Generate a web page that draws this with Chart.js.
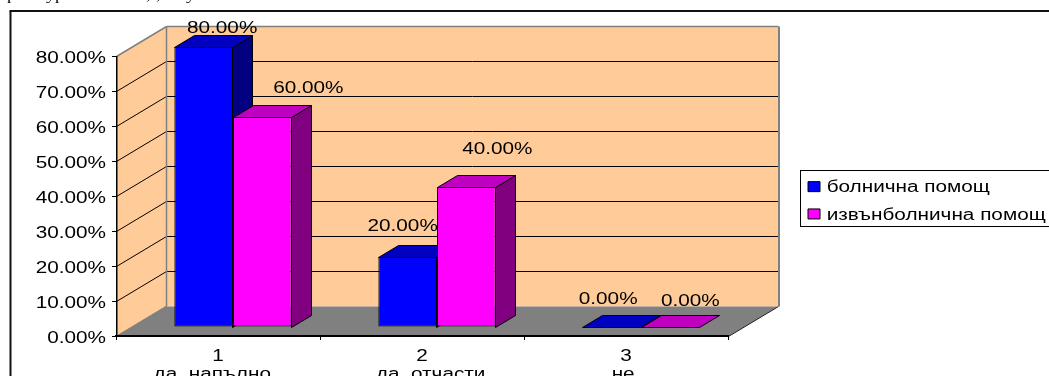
<!DOCTYPE html>
<html>
<head>
<meta charset="utf-8">
<style>
  html, body { margin: 0; padding: 0; background: #fff; overflow: hidden; }
  canvas { display: block; }
</style>
<script src="https://cdn.jsdelivr.net/npm/chart.js@4"></script>
</head>
<body>
<canvas id="chart" width="1049" height="376"></canvas>
<script>
// Survey answers, in percent
const categories = [['1', 'да, напълно  '], ['2', '   да, отчасти'], ['3', 'не ']];
const seriesNames = ['болнична помощ', 'извънболнична помощ'];
const hospitalCare = [80, 20, 0];
const outpatientCare = [60, 40, 0];
const axisMin = 0;
const axisMax = 80;
const axisStep = 10;

// Hand-placed offsets of the value labels from the top centre of each bar
const labelNudges = [
  [[18.5, -18.5], [-5, -30.5], [-3.5, -27.5]],
  [[46, -28.5], [31, -37.5], [20, -25.5]]
];

// Oblique projection of the box around the plot
const wallDepth = { x: 50, y: -30 };
const barInset = { x: 15, y: -9 };
const barDepth = { x: 20, y: -12 };

const seriesStyles = [
  { front: '#0000ff', top: '#0000c0', side: '#000080' },
  { front: '#ff00ff', top: '#c000c0', side: '#800080' }
];

const textFont = '"Liberation Sans", Arial, sans-serif';
const textSize = 17.3;
const textWiden = 1.2;

const canvas = document.getElementById('chart');

// All chart text is set slightly wide; value-axis and legend labels also get a small optical shift
const ctx2d = canvas.getContext('2d');
const plainFillText = ctx2d.fillText.bind(ctx2d);
ctx2d.fillText = (s, x, y) => {
  const shift = { right: [0, 2.5], left: [-2, 1] }[ctx2d.textAlign] || [0, 0];
  ctx2d.save();
  ctx2d.translate(x + shift[0], y + shift[1]);
  ctx2d.scale(textWiden, 1);
  plainFillText(s, 0, 0);
  ctx2d.restore();
};

function poly(ctx, pts, fill, stroke, width) {
  ctx.beginPath();
  pts.forEach((p, i) => (i ? ctx.lineTo(p[0], p[1]) : ctx.moveTo(p[0], p[1])));
  ctx.closePath();
  if (fill) { ctx.fillStyle = fill; ctx.fill(); }
  if (stroke) { ctx.strokeStyle = stroke; ctx.lineWidth = width || 1; ctx.stroke(); }
}

function line(ctx, x1, y1, x2, y2, color, width) {
  ctx.beginPath();
  ctx.moveTo(x1, y1);
  ctx.lineTo(x2, y2);
  ctx.strokeStyle = color;
  ctx.lineWidth = width || 1;
  ctx.stroke();
}

const backdrop = {
  id: 'backdrop',
  // Frame, cut-off caption line, walls, floor, gridlines and the legend box
  beforeDraw(chart) {
    const ctx = chart.ctx;
    const { left, right, top, bottom } = chart.chartArea;
    const L = left + 0.5, R = right + 0.5, T = top + 0.5, B = bottom + 0.5;
    const dx = wallDepth.x, dy = wallDepth.y;

    ctx.save();
    ctx.fillStyle = '#000';
    ctx.font = '15px "Liberation Serif", serif';
    ctx.textBaseline = 'alphabetic';
    [['р', 7], ['ур', 46], [',', 146], [',', 156], ['у', 186]].forEach(f => ctx.fillText(f[0], f[1], 0));
    ctx.restore();

    line(ctx, 10.5, 376, 10.5, 11, '#111', 2);
    line(ctx, 9.5, 11, 1049, 11, '#111', 2);

    // side wall and back wall
    poly(ctx, [[L, B], [L, T], [L + dx, T + dy], [L + dx, B + dy]], '#ffcc99');
    ctx.fillStyle = '#ffcc99';
    ctx.fillRect(L + dx, T + dy, R - L, B - T);

    // gridlines run across the back wall and along the side wall
    chart.scales.y.ticks.forEach(t => {
      if (t.value === axisMin || t.value === axisMax) return;
      const y = Math.round(chart.scales.y.getPixelForValue(t.value)) + 0.5;
      line(ctx, L + dx, y + dy, R + dx, y + dy, '#000');
      line(ctx, L, y, L + dx, y + dy, '#000');
    });

    // floor
    poly(ctx, [[L, B], [R, B], [R + dx, B + dy], [L + dx, B + dy]], '#808080');
    line(ctx, R, B, R + dx, B + dy, '#222');

    // wall outlines
    line(ctx, L, T, L + dx, T + dy, '#808080', 1.5);
    line(ctx, L + dx, T + dy, R + dx, T + dy, '#808080', 1.5);
    line(ctx, L + dx, T + dy, L + dx, B + dy, '#808080', 1.5);
    line(ctx, R + dx + 0.5, T + dy, R + dx + 0.5, B + dy, '#808080', 2);
    line(ctx, L, B, L + dx, B + dy, '#808080', 1.5);

    // value axis sits on the front edge of the side wall
    line(ctx, L + 0.25, T - 0.5, L + 0.25, B + 0.5, '#000', 1.5);

    ctx.strokeStyle = '#000';
    ctx.lineWidth = 1;
    ctx.strokeRect(800.5, 170.5, 300, 56);
  },
  afterLayout(chart) {
    const lg = chart.legend;
    lg.left = 798;
    lg.top = 168;
    lg.right = 1049;
    lg.bottom = 300;
    lg.width = 251;
    lg.height = 132;
    lg.adjustHitBoxes();
  },
  // Series are painted left to right so a bar's front covers its neighbour's side
  beforeDatasetsDraw(chart) {
    const ctx = chart.ctx;
    const dx = barDepth.x, dy = barDepth.y;
    chart.data.datasets.forEach((ds, index) => {
      const meta = chart.getDatasetMeta(index);
      const style = seriesStyles[index];
      meta.data.forEach(bar => {
        const x0 = bar.x - bar.width / 2 + barInset.x;
        const x1 = bar.x + bar.width / 2 + barInset.x;
        const sx0 = Math.round(x0) + 0.5, sx1 = Math.round(x1) - 0.5;
        const syt = Math.round(bar.y + barInset.y) + 0.5;
        const syb = Math.round(bar.base + barInset.y) + 0.5;
        if (syb - syt > 1) {
          poly(ctx, [[sx1, syt], [sx1 + dx, syt + dy], [sx1 + dx, syb + dy], [sx1, syb]], style.side, '#000');
        }
        poly(ctx, [[sx0, syt], [sx0 + dx, syt + dy], [sx1 + dx, syt + dy], [sx1, syt]], style.top, '#000');
      });

      ctx.save();
      ctx.translate(barInset.x, barInset.y);
      meta.controller.draw();
      ctx.restore();

      ctx.save();
      ctx.fillStyle = '#000';
      ctx.font = textSize + 'px ' + textFont;
      ctx.textAlign = 'center';
      ctx.textBaseline = 'middle';
      meta.data.forEach((bar, i) => {
        const n = labelNudges[index][i];
        ctx.fillText(ds.data[i].toFixed(2) + '%', bar.x + barInset.x + n[0], bar.y + barInset.y + n[1]);
      });
      ctx.restore();
    });
    return false;
  }
};

new Chart(canvas, {
  type: 'bar',
  plugins: [backdrop],
  data: {
    labels: categories,
    datasets: [
      { label: seriesNames[0], data: hospitalCare, backgroundColor: seriesStyles[0].front, borderColor: '#000', borderWidth: 1, borderSkipped: false, clip: false },
      { label: seriesNames[1], data: outpatientCare, backgroundColor: seriesStyles[1].front, borderColor: '#000', borderWidth: 1, borderSkipped: false, clip: false }
    ]
  },
  options: {
    responsive: false,
    animation: false,
    events: [],
    layout: { padding: { left: 0, right: 321, top: 56, bottom: 0 } },
    datasets: { bar: { categoryPercentage: 0.575, barPercentage: 1 } },
    plugins: {
      title: { display: false },
      tooltip: { enabled: false },
      legend: {
        position: 'chartArea',
        align: 'start',
        labels: {
          color: '#000',
          boxWidth: 12,
          boxHeight: 10,
          padding: 10,
          font: { family: textFont, size: textSize }
        }
      }
    },
    scales: {
      x: {
        afterFit(scale) { scale.height = 40; },
        grid: { drawOnChartArea: false, color: '#000', tickLength: 4, tickWidth: 1 },
        border: { color: '#000', width: 2 },
        ticks: { color: '#000', maxRotation: 0, autoSkip: false, padding: 8, font: { family: textFont, size: textSize, lineHeight: 1 } }
      },
      y: {
        min: axisMin,
        max: axisMax,
        afterFit(scale) { scale.width = 116; },
        grid: { drawOnChartArea: false, color: '#000', tickLength: 4, tickWidth: 1 },
        border: { display: false },
        ticks: {
          stepSize: axisStep,
          color: '#000',
          padding: 6,
          font: { family: textFont, size: textSize },
          callback: v => v.toFixed(2) + '%'
        }
      }
    }
  }
});
</script>
</body>
</html>
